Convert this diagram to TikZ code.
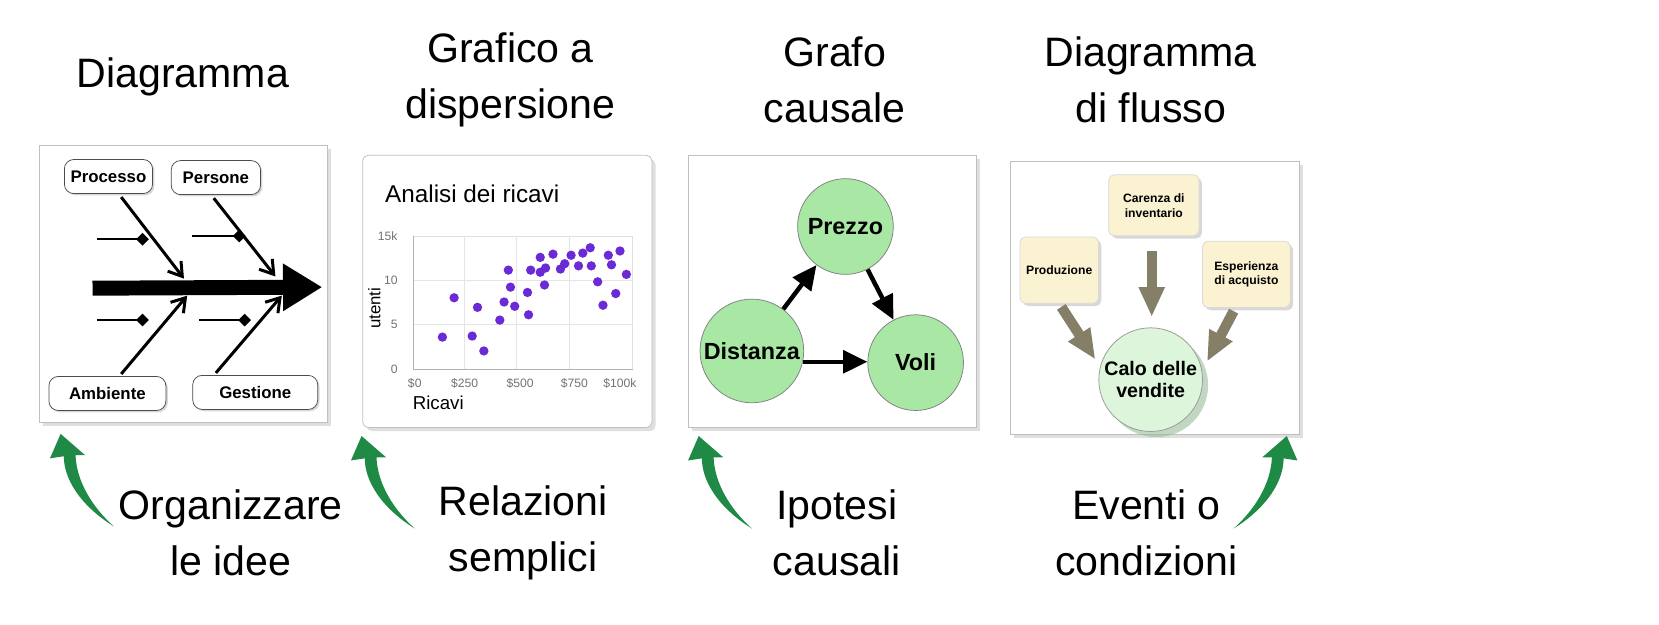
\documentclass[tikz,border=0pt]{standalone}
\usepackage{fontspec}
\setmainfont{Liberation Sans}
\usetikzlibrary{arrows.meta,shadows}
\definecolor{arrowgreen}{HTML}{1E8A45}
\definecolor{nodegreen}{HTML}{A8E8A4}
\definecolor{palegreen}{HTML}{DDF5DA}
\definecolor{cream}{HTML}{FBF2D2}
\definecolor{fatgray}{HTML}{857F68}
\definecolor{dotviolet}{HTML}{6A2BD6}
\tikzset{>=latex,
  panel/.style={draw=black!25,fill=white,drop shadow={shadow xshift=2pt,shadow yshift=-2pt,opacity=.25}},
  heading/.style={font=\fontsize{22}{30}\selectfont,align=center},
  fishbox/.style={draw=black!70,rounded corners=5pt,fill=white,font=\fontsize{9}{10}\selectfont\bfseries,
    minimum height=0.64cm,drop shadow={shadow xshift=1pt,shadow yshift=-1pt,opacity=.3}},
  bone/.style={line width=1.6pt,-{Straight Barb[length=7pt,width=9pt]}},
  cause/.style={circle,draw=black!50,fill=nodegreen,font=\fontsize{12.5}{14}\selectfont\bfseries,inner sep=0pt},
  causal/.style={line width=2.4pt,-{Triangle[length=13pt,width=12pt]}},
  note/.style={draw=black!15,rounded corners=3pt,fill=cream,font=\fontsize{6.5}{8}\selectfont\bfseries,align=center,
    drop shadow={shadow xshift=1.5pt,shadow yshift=-1.5pt,opacity=.3}},
  fat/.style={fatgray,line width=5.5pt,-{Triangle[length=16pt,width=13pt]}},
  tick/.style={font=\fontsize{6.5}{7}\selectfont,text=black!55},
  dot/.style={circle,fill=dotviolet,inner sep=0pt,minimum size=5pt}
}
% curved green arrow, drawn at (#1) mirrored by #2
\newcommand\greenArrow[2]{%
  \fill[arrowgreen,shift={(#1)},xscale=#2]
    (0,0) .. controls (-32,-20) and (-47,-45) .. (-47,-66) -- (-60,-64) -- (-50,-87)
    -- (-27,-67) -- (-36,-67) .. controls (-35,-42) and (-20,-18) .. cycle;}
\begin{document}
\begin{tikzpicture}[x=0.02cm,y=-0.02cm]
  \useasboundingbox (0,0) rectangle (1560,587);

  % TITLES
  \node[heading] (t1) at (172,72) {Diagramma};
  \node[heading] (t2) at (480,75) {Grafico a\\dispersione};
  \node[heading] (t3) at (785,75) {Grafo\\causale};
  \node[heading] (t4) at (1082,75) {Diagramma\\di flusso};

  % PANELS
  \draw[panel] (37,137) rectangle (308,397);
  \draw[panel,rounded corners=3pt] (341,146) rectangle (613,402);
  \draw[panel] (647,146) rectangle (918,402);
  \draw[panel] (950,152) rectangle (1222,408);

  % FISHBONE
  \node[fishbox,minimum width=1.56cm] (proc) at (102,166) {Processo};
  \node[fishbox,minimum width=1.68cm] (pers) at (203,167) {Persone};
  \node[fishbox,minimum width=2.2cm] (amb) at (101,370) {Ambiente};
  \node[fishbox,minimum width=2.35cm] (gest) at (240,369) {Gestione};
  \coordinate (spineA) at (87,271);
  \coordinate (spineB) at (303,270);
  \draw[line width=8pt,-{Triangle[length=21pt,width=24pt]}] (spineA) -- (spineB);
  \draw[bone] (proc.south) ++(12,3) -- (173,262);
  \draw[bone] (pers.south) ++(-2,3) -- (259,260);
  \draw[bone] (amb.north) ++(13,-2) -- (176,278);
  \draw[bone] (gest.north) ++(-37,-2) -- (265,278);
  \foreach \xa/\xb/\yy in {91/134/225,181/225/222,91/134/301,187/230/301}{
    \draw[line width=1.2pt] (\xa,\yy) -- (\xb,\yy);
    \fill (\xb,\yy) +(-6,0) -- +(0,-6) -- +(6,0) -- +(0,6) -- cycle;
  }

  % SCATTER
  \node[anchor=west,font=\fontsize{13}{15}\selectfont] (stitle) at (356,182) {Analisi dei ricavi};
  \draw[black!12] (389,222) rectangle (595,347);
  \foreach \gx in {437,486,535} \draw[black!10] (\gx,222) -- (\gx,347);
  \foreach \gy in {264,305} \draw[black!10] (389,\gy) -- (595,\gy);
  \draw[black!30] (389,222) -- (389,347) -- (595,347);
  \foreach \lab/\gy in {15k/222,10/264,5/305,0/347}
    \node[tick,anchor=east] at (380,\gy) {\lab};
  \foreach \lab/\gx in {\$0/390,\$250/437,\$500/489,\$750/540,\$100k/583}
    \node[tick] at (\gx,361) {\lab};
  \node[rotate=90,font=\fontsize{9}{10}\selectfont] (ylab) at (352,290) {utenti};
  \node[anchor=west,font=\fontsize{10}{11}\selectfont] (xlab) at (382,379) {Ricavi};
  \foreach \px/\py in {416/317,427/280,444/316,455/330,449/289,470/301,474/284,480/270,
      478/254,484/288,496/275,497/296,499/254,508/256,512/268,508/242,513/252,520/239,
      531/248,537/240,544/250,527/253,555/233,556/250,562/265,567/287,572/240,583/236,
      579/276,589/258,575/249,548/238}
    \node[dot] at (\px,\py) {};

  % CAUSAL GRAPH
  \node[cause,minimum size=1.8cm] (prezzo) at (795,213) {Prezzo};
  \node[cause,minimum size=1.95cm] (dist) at (707,330) {Distanza};
  \node[cause,minimum size=1.8cm] (voli) at (861,341) {Voli};
  \draw[causal] (dist) -- (prezzo);
  \draw[causal] (prezzo) -- (voli);
  \draw[causal] (dist.-12) -- (voli.west |- dist.-12);

  % FLOW
  \node[note,minimum width=1.7cm,minimum height=1.15cm] (caren) at (1085,193) {Carenza di\\inventario};
  \node[note,minimum width=1.45cm,minimum height=1.25cm] (prod) at (996,254) {Produzione};
  \node[note,minimum width=1.65cm,minimum height=1.25cm] (esp) at (1172,258) {Esperienza\\di acquisto};
  \node[circle,draw=black!40,fill=palegreen,minimum size=1.95cm,font=\fontsize{10.5}{12}\selectfont\bfseries,
    align=center,inner sep=0pt,drop shadow={shadow xshift=3pt,shadow yshift=-3pt,fill=green!35!black!40,opacity=.6}]
    (calo) at (1082,357) {Calo delle\\vendite};
  \draw[fat] (caren.south) ++(-2,14) -- (1083,298);
  \draw[fat] (prod.south) ++(2,3) -- (1030,338);
  \draw[fat] (esp.south) ++(-12,3) -- (1135,340);

  % LABELS
  \node[heading] (b1) at (217,501) {Organizzare\\le idee};
  \node[heading] (b2) at (492,501) {Relazioni\\semplici};
  \node[heading] (b3) at (787,501) {Ipotesi\\causali};
  \node[heading] (b4) at (1078,501) {Eventi o\\condizioni};
  \greenArrow{107,495}{1}
  \greenArrow{390,497}{1}
  \greenArrow{707,497}{1}
  \greenArrow{1160,497}{-1}
\end{tikzpicture}
\end{document}
